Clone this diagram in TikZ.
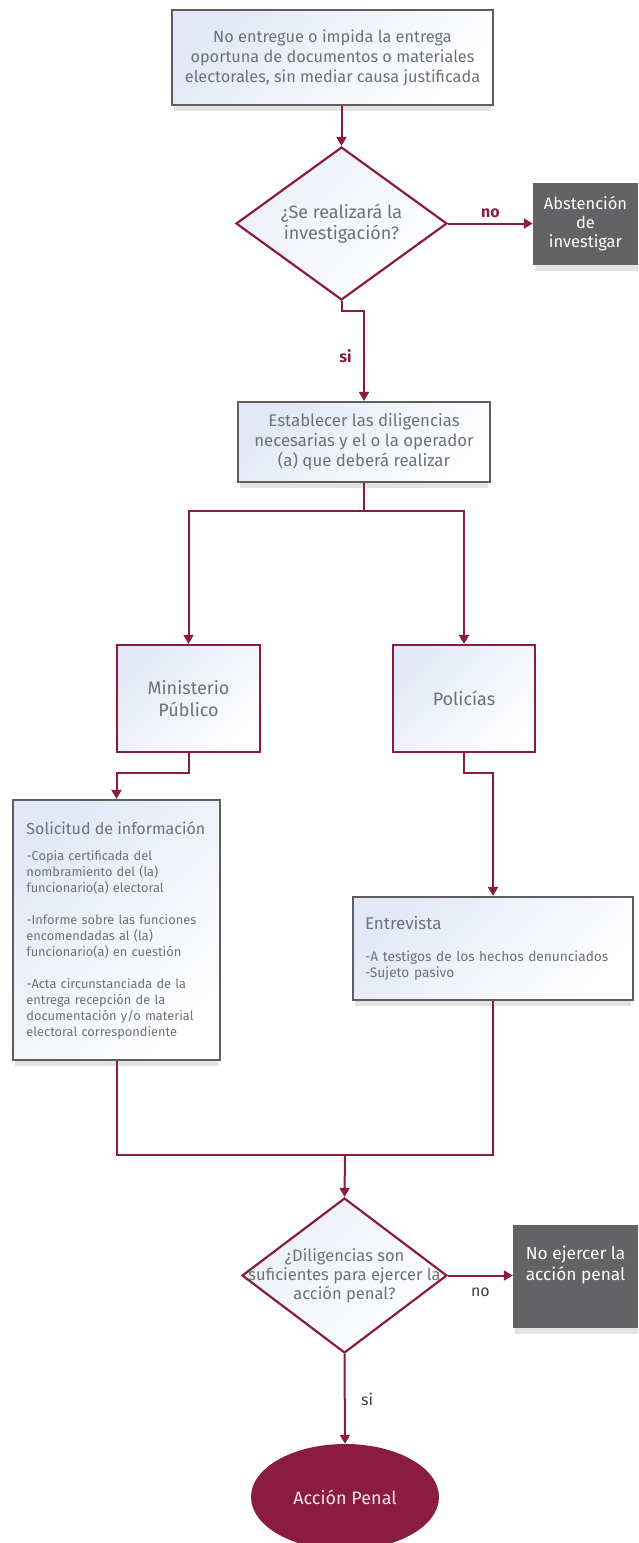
\documentclass[tikz,border=0pt]{standalone}
\usepackage{fontspec}
\setmainfont{Fira Sans}
\usetikzlibrary{shapes.geometric,arrows.meta}
\definecolor{maroon}{HTML}{8B1C41}
\definecolor{boxgray}{HTML}{5E5E60}
\definecolor{darkfill}{HTML}{636366}
\definecolor{txt}{HTML}{707174}
\definecolor{lblue}{HTML}{E2E8F5}
\newcommand{\fs}[2]{\fontsize{#1}{#2}\selectfont}
\begin{document}
\begin{tikzpicture}[x=1pt,y=-1pt,
  shadowc/.style={fill=gray, opacity=0.22},
  box/.style={draw=boxgray, line width=2.2pt, top color=lblue, bottom color=white, shading angle=45,
    align=center, text=txt, inner sep=0pt},
  mbox/.style={draw=maroon, line width=2.2pt, top color=lblue, bottom color=white, shading angle=45,
    align=center, text=txt, inner sep=0pt},
  dark/.style={fill=darkfill, align=center, text=white, inner sep=0pt},
  dia/.style={diamond, draw=maroon, line width=2.2pt, top color=lblue!70, bottom color=white, shading angle=45, inner sep=0pt},
  con/.style={draw=maroon, line width=2pt},
  arr/.style={con, -{Triangle[length=9pt,width=10pt]}},
  lab/.style={text=maroon, font=\bfseries\fs{16}{19}},
  lab2/.style={text=black!75, font=\fs{16}{19}},
]
\useasboundingbox (0,0) rectangle (638,1543);

% soft shadows
\fill[shadowc] (174,15) rectangle (491,111);
\fill[shadowc] (535,188) rectangle (638,271);
\fill[shadowc] (240,407) rectangle (488,488);
\fill[shadowc] (15,805) rectangle (218,1066);
\fill[shadowc] (355,902) rectangle (631,1006);
\fill[shadowc] (515,1230) rectangle (638,1334);

% nodes
\node[box, minimum width=321pt, minimum height=95pt, font=\fs{16.3}{20}] (top) at (332.5,57.5)
  {No entregue o impida la entrega\\oportuna de documentos o materiales\\electorales, sin mediar causa justificada};

\node[dia, minimum width=211pt, minimum height=153pt] (d1) at (341.5,223.5) {};
\node[text=txt, align=center, font=\fs{18}{21}] (d1t) at (d1) {¿Se realizará la\\investigación?};

\node[dark, minimum width=105pt, minimum height=82pt, font=\fs{16.5}{19}] (abs) at (585.5,224)
  {Abstención\\de\\investigar};

\node[box, minimum width=252pt, minimum height=80pt, font=\fs{16.8}{20}] (est) at (364,442)
  {Establecer las diligencias\\necesarias y el o la operador\\(a) que deberá realizar};

\node[mbox, minimum width=143pt, minimum height=107pt, font=\fs{18}{22}] (mp) at (188.5,698.5)
  {Ministerio\\Público};
\node[mbox, minimum width=142pt, minimum height=107pt, font=\fs{18}{22}] (pol) at (464,698.5)
  {Policías};

\node[box, minimum width=207pt, minimum height=260pt, text width=180pt, align=left, font=\fs{12.8}{16}] (sol) at (116.5,930)
  {{\fs{16}{20}Solicitud de información}\\[10pt]
   -Copia certificada del\\nombramiento del (la)\\funcionario(a) electoral\\[16pt]
   -Informe sobre las funciones\\encomendadas al (la)\\funcionario(a) en cuestión\\[16pt]
   -Acta circunstanciada de la\\entrega recepción de la\\documentación y/o material\\electoral correspondiente};

\node[box, minimum width=280pt, minimum height=103pt, text width=256pt, align=left, font=\fs{13.7}{16}] (ent) at (493,948.5)
  {{\fs{17}{20}Entrevista}\\[16pt]
   -A testigos de los hechos denunciados\\-Sujeto pasivo};

\node[dia, minimum width=205pt, minimum height=155pt] (d2) at (344.5,1275.5) {};
\node[text=txt, align=center, font=\fs{16.5}{19}] (d2t) at (d2) {¿Diligencias son\\suficientes para ejercer la\\acción penal?};

\node[dark, minimum width=125pt, minimum height=103pt, font=\fs{17.3}{21}] (noej) at (575.5,1276.5)
  {No ejercer la\\acción penal\\[6pt]};

\node[ellipse, fill=maroon, minimum width=188pt, minimum height=106pt, text=white!88!maroon,
  font=\fs{18}{22}] (acc) at (345,1497) {Acción Penal};

% helper coordinates
\coordinate (j1) at (364,511);
\coordinate (j2) at (345,1155);

% connectors
\draw[arr] (d1.north |- top.south) -- (d1.north);
\draw[arr] (d1.east) -- (d1.east -| abs.west) node[lab, midway, above=1pt] (lno) {no};
\draw[arr] (d1.south) -- ++(0,10) -| (est.north) node[lab, pos=0.75, left=8pt] (lsi) {si};
\draw[con] (est.south) -- (j1);
\draw[arr] (j1) -| (mp.north);
\draw[arr] (j1) -| (pol.north);
\draw[arr] (mp.south) -- ++(0,20) -| (sol.north);
\draw[arr] (pol.south) -- ++(0,20) -| (ent.north);
\draw[con] (sol.south) |- (j2);
\draw[con] (ent.south) |- (j2);
\draw[arr] (j2) -- (d2.north);
\draw[arr] (d2.east) -- (d2.east -| noej.west) node[lab2, midway, below=8pt] (lno2) {no};
\draw[arr] (d2.south) -- (acc.north) node[lab2, midway, right=12pt] (lsi2) {si};
\end{tikzpicture}
\end{document}
